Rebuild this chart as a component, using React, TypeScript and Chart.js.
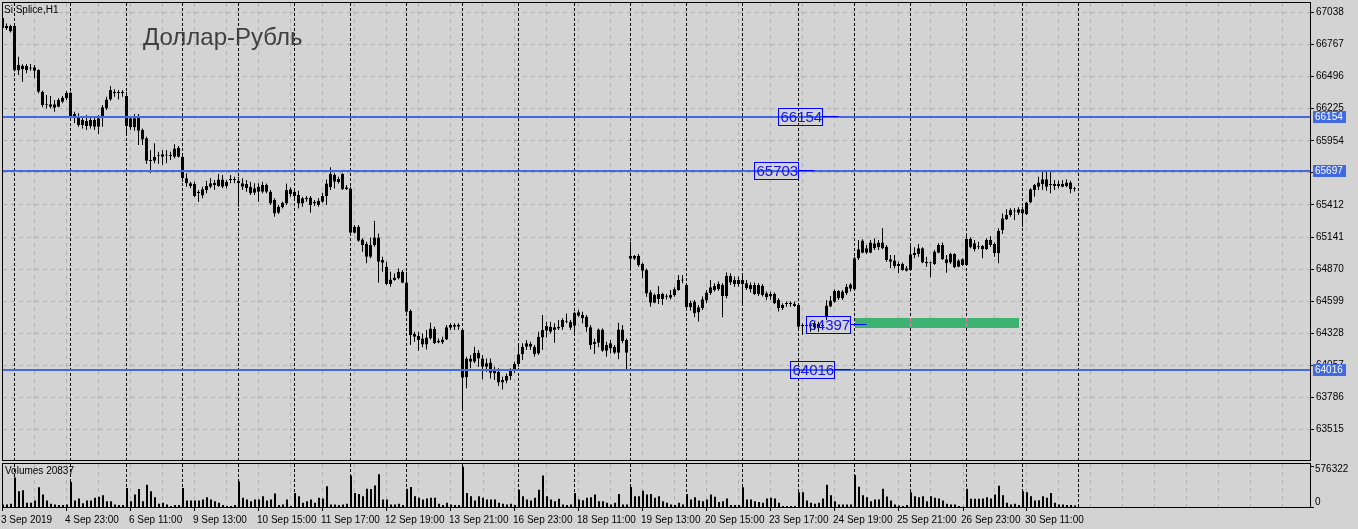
import React, { useEffect, useRef } from "react";
import { Chart, registerables } from "chart.js";
Chart.register(...registerables);

const FONT = '"Liberation Sans", Arial, sans-serif';
const BG = "#d3d3d3";
const GRID = "#b2b2b2";
const LEVEL = "#4169e1";

// ---- price data (Si Splice, H1) ----
const openP = [
  66992, 66905, 66924, 66925, 66547, 66589, 66552, 66570, 66546, 66552,
  66369, 66259, 66262, 66262, 66242, 66285, 66313, 66361, 66180, 66158,
  66087, 66121, 66079, 66130, 66073, 66144, 66228, 66304, 66369, 66361,
  66369, 66332, 66068, 66068, 66158, 66045, 65975, 65789, 65786, 65831,
  65840, 65833, 65826, 65820, 65896, 65820, 65637, 65595, 65589, 65516,
  65493, 65538, 65567, 65581, 65572, 65628, 65572, 65624, 65623, 65617,
  65595, 65589, 65567, 65516, 65524, 65524, 65580, 65524, 65454, 65347,
  65392, 65425, 65544, 65524, 65496, 65425, 65462, 65476, 65440, 65411,
  65440, 65487, 65561, 65665, 65606, 65673, 65544, 65552, 65178, 65228,
  65121, 65082, 64975, 65073, 65138, 64947, 64890, 64744, 64800, 64792,
  64848, 64758, 64516, 64322, 64305, 64285, 64234, 64285, 64364, 64265,
  64251, 64276, 64375, 64398, 64398, 64355, 63956, 64116, 64088, 64164,
  64116, 64046, 64082, 64023, 64003, 63913, 63927, 63967, 64023, 64068,
  64150, 64215, 64237, 64215, 64158, 64293, 64350, 64383, 64378, 64383,
  64378, 64426, 64426, 64392, 64505, 64482, 64468, 64378, 64237, 64248,
  64361, 64229, 64243, 64215, 64164, 64361, 64271, 64980, 64958, 64980,
  64913, 64862, 64674, 64586, 64659, 64617, 64637, 64628, 64651, 64693,
  64773, 64736, 64548, 64596, 64503, 64539, 64604, 64666, 64694, 64700,
  64736, 64643, 64812, 64779, 64745, 64779, 64751, 64700, 64736, 64660,
  64728, 64666, 64660, 64660, 64610, 64539, 64576, 64576, 64559, 64567,
  64390, 64390, 64392, 64378, 64406, 64390, 64464, 64555, 64595, 64686,
  64623, 64666, 64704, 64697, 64961, 65009, 65046, 65009, 65088, 65054,
  65094, 65060, 64953, 64942, 64897, 64913, 64877, 64863, 64989, 64998,
  65046, 64933, 64919, 64913, 65009, 65074, 64953, 64925, 64998, 64891,
  64905, 64905, 65127, 65088, 65054, 65037, 65037, 65116, 65082, 65004,
  65201, 65291, 65327, 65356, 65347, 65375, 65336, 65432, 65539, 65567,
  65589, 65629, 65581, 65572, 65589, 65567, 65572, 65601, 65544,
];
const highP = [
  67017, 66945, 66935, 66935, 66665, 66600, 66603, 66603, 66594, 66558,
  66378, 66341, 66332, 66299, 66313, 66332, 66378, 66369, 66200, 66186,
  66158, 66172, 66164, 66158, 66172, 66256, 66327, 66417, 66389, 66383,
  66383, 66369, 66164, 66180, 66180, 66059, 65989, 65876, 65933, 65862,
  65876, 65876, 65862, 65924, 65910, 65834, 65679, 65609, 65609, 65538,
  65567, 65617, 65637, 65623, 65673, 65665, 65623, 65665, 65651, 65651,
  65637, 65623, 65609, 65595, 65595, 65608, 65594, 65538, 65468, 65411,
  65440, 65594, 65561, 65544, 65532, 65482, 65487, 65487, 65454, 65468,
  65516, 65628, 65730, 65679, 65651, 65679, 65580, 65566, 65242, 65242,
  65130, 65102, 65138, 65279, 65172, 64975, 64933, 64848, 64834, 64876,
  64862, 64848, 64530, 64341, 64341, 64327, 64355, 64417, 64383, 64285,
  64299, 64398, 64412, 64412, 64412, 64369, 64130, 64144, 64215, 64186,
  64144, 64116, 64116, 64046, 64032, 63961, 63989, 64032, 64088, 64229,
  64243, 64271, 64257, 64229, 64341, 64482, 64426, 64426, 64412, 64440,
  64454, 64496, 64440, 64510, 64524, 64510, 64482, 64398, 64285, 64369,
  64369, 64257, 64271, 64229, 64417, 64398, 64285, 65102, 64989, 64997,
  64924, 64876, 64693, 64665, 64727, 64671, 64659, 64693, 64716, 64820,
  64821, 64750, 64604, 64610, 64567, 64638, 64694, 64779, 64750, 64765,
  64750, 64841, 64835, 64807, 64807, 64812, 64779, 64756, 64756, 64750,
  64745, 64680, 64680, 64672, 64624, 64581, 64596, 64596, 64596, 64581,
  64412, 64406, 64412, 64426, 64426, 64406, 64609, 64643, 64699, 64694,
  64694, 64744, 64750, 64975, 65116, 65122, 65074, 65116, 65130, 65116,
  65215, 65074, 64989, 64989, 64933, 64925, 64897, 65088, 65054, 65082,
  65054, 64975, 64933, 65032, 65088, 65094, 64989, 65009, 65004, 64953,
  64961, 65158, 65139, 65116, 65102, 65074, 65130, 65150, 65094, 65215,
  65341, 65375, 65384, 65384, 65392, 65398, 65440, 65553, 65589, 65651,
  65691, 65691, 65691, 65623, 65617, 65623, 65629, 65617, 65567,
];
const lowP = [
  66890, 66890, 66870, 66540, 66510, 66454, 66524, 66546, 66482, 66355,
  66237, 66228, 66228, 66200, 66237, 66271, 66299, 66152, 66102, 66073,
  66059, 66045, 66059, 66045, 66011, 66073, 66214, 66293, 66327, 66304,
  66327, 65995, 66045, 66040, 65918, 65918, 65758, 65679, 65764, 65758,
  65750, 65764, 65792, 65806, 65814, 65609, 65567, 65553, 65482, 65440,
  65468, 65510, 65553, 65538, 65567, 65553, 65553, 65595, 65595, 65398,
  65538, 65524, 65496, 65496, 65440, 65510, 65510, 65411, 65313, 65335,
  65383, 65411, 65482, 65454, 65383, 65397, 65440, 65347, 65403, 65397,
  65431, 65411, 65538, 65552, 65594, 65538, 65538, 65172, 65172, 65102,
  65017, 64919, 64961, 65059, 64755, 64848, 64736, 64721, 64772, 64783,
  64750, 64502, 64229, 64257, 64181, 64209, 64192, 64276, 64237, 64243,
  64237, 64271, 64355, 64355, 64355, 63680, 63863, 64032, 64074, 64046,
  63939, 64003, 63947, 63933, 63882, 63854, 63905, 63933, 63995, 64046,
  64102, 64186, 64186, 64130, 64144, 64186, 64293, 64327, 64248, 64355,
  64355, 64412, 64355, 64333, 64468, 64412, 64341, 64192, 64153, 64209,
  64172, 64130, 64158, 64153, 64108, 64243, 64023, 64876, 64947, 64890,
  64792, 64637, 64553, 64581, 64575, 64567, 64614, 64614, 64637, 64688,
  64750, 64525, 64520, 64463, 64427, 64525, 64581, 64652, 64680, 64688,
  64463, 64624, 64736, 64722, 64722, 64576, 64694, 64672, 64652, 64643,
  64638, 64610, 64610, 64576, 64511, 64525, 64553, 64553, 64553, 64370,
  64314, 64361, 64342, 64356, 64342, 64370, 64440, 64547, 64587, 64609,
  64609, 64651, 64680, 64690, 64947, 65004, 64998, 65004, 65032, 65032,
  65037, 64933, 64877, 64877, 64835, 64857, 64849, 64857, 64961, 64975,
  64919, 64891, 64801, 64905, 65004, 64947, 64840, 64913, 64877, 64885,
  64897, 64897, 65046, 65018, 65037, 64961, 65032, 65060, 64975, 64919,
  65167, 65285, 65313, 65285, 65327, 65229, 65327, 65426, 65482, 65539,
  65539, 65533, 65510, 65539, 65553, 65561, 65561, 65510, 65525,
];
const closeP = [
  66907, 66925, 66880, 66547, 66594, 66558, 66586, 66566, 66575, 66369,
  66256, 66254, 66242, 66234, 66299, 66321, 66361, 66158, 66144, 66087,
  66130, 66079, 66130, 66073, 66144, 66237, 66304, 66383, 66355, 66358,
  66355, 66079, 66144, 66144, 66040, 65966, 65786, 65784, 65820, 65828,
  65820, 65831, 65825, 65890, 65820, 65637, 65595, 65572, 65488, 65513,
  65544, 65572, 65595, 65600, 65628, 65567, 65609, 65622, 65622, 65595,
  65567, 65553, 65510, 65553, 65567, 65580, 65524, 65425, 65341, 65397,
  65431, 65538, 65504, 65487, 65425, 65468, 65462, 65411, 65425, 65448,
  65487, 65594, 65673, 65608, 65634, 65544, 65561, 65178, 65228, 65110,
  65073, 64975, 65073, 65138, 64933, 64924, 64744, 64783, 64778, 64848,
  64755, 64510, 64313, 64299, 64271, 64234, 64293, 64369, 64243, 64251,
  64276, 64378, 64398, 64383, 64383, 63953, 64116, 64088, 64164, 64116,
  64046, 64074, 63995, 63989, 63913, 63933, 63967, 64023, 64068, 64150,
  64215, 64243, 64215, 64153, 64299, 64355, 64389, 64341, 64355, 64369,
  64440, 64426, 64375, 64502, 64476, 64454, 64378, 64229, 64257, 64361,
  64181, 64181, 64200, 64164, 64361, 64263, 64164, 64958, 64980, 64905,
  64857, 64665, 64586, 64651, 64617, 64659, 64637, 64651, 64699, 64778,
  64773, 64548, 64587, 64497, 64548, 64615, 64672, 64717, 64728, 64745,
  64643, 64812, 64756, 64745, 64779, 64745, 64708, 64736, 64660, 64736,
  64652, 64632, 64638, 64581, 64539, 64567, 64575, 64575, 64576, 64384,
  64390, 64392, 64390, 64412, 64370, 64392, 64562, 64606, 64686, 64623,
  64680, 64722, 64740, 64961, 65037, 65111, 65009, 65094, 65046, 65094,
  65046, 64947, 64933, 64897, 64913, 64863, 64857, 64995, 65009, 65046,
  64925, 64919, 64919, 65018, 65074, 64953, 64919, 64998, 64885, 64942,
  64953, 65127, 65054, 65037, 65054, 65065, 65116, 65074, 65004, 65195,
  65299, 65327, 65370, 65356, 65375, 65341, 65432, 65544, 65581, 65601,
  65629, 65567, 65581, 65589, 65572, 65589, 65601, 65544, 65544,
];
const volumes = [
  37000, 37000, 47000, 422000, 225000, 239000, 61000, 61000, 94000, 281000,
  178000, 94000, 47000, 37000, 28000, 28000, 37000, 356000, 94000, 122000,
  52000, 94000, 94000, 131000, 145000, 169000, 84000, 84000, 37000, 28000,
  28000, 272000, 84000, 178000, 258000, 84000, 319000, 225000, 141000, 47000,
  61000, 37000, 14000, 28000, 28000, 272000, 94000, 94000, 94000, 94000,
  108000, 141000, 108000, 84000, 61000, 28000, 14000, 14000, 28000, 366000,
  131000, 108000, 84000, 108000, 108000, 155000, 94000, 108000, 192000, 28000,
  37000, 108000, 14000, 201000, 155000, 61000, 84000, 108000, 61000, 131000,
  122000, 295000, 37000, 37000, 28000, 37000, 47000, 450000, 201000, 187000,
  155000, 262000, 258000, 309000, 469000, 108000, 108000, 37000, 37000, 47000,
  28000, 262000, 286000, 155000, 131000, 108000, 122000, 131000, 131000, 47000,
  28000, 61000, 37000, 28000, 28000, 576322, 201000, 155000, 94000, 155000,
  131000, 108000, 108000, 108000, 61000, 47000, 37000, 47000, 28000, 248000,
  155000, 108000, 94000, 131000, 248000, 450000, 155000, 108000, 84000, 117000,
  37000, 28000, 37000, 201000, 108000, 98000, 131000, 141000, 178000, 84000,
  84000, 61000, 37000, 61000, 187000, 37000, 37000, 286000, 155000, 155000,
  234000, 178000, 187000, 131000, 155000, 84000, 61000, 37000, 28000, 61000,
  37000, 187000, 108000, 141000, 94000, 84000, 108000, 178000, 145000, 70000,
  84000, 122000, 28000, 28000, 28000, 281000, 108000, 108000, 84000, 70000,
  61000, 122000, 131000, 122000, 61000, 14000, 14000, 14000, 14000, 211000,
  211000, 94000, 61000, 47000, 61000, 122000, 319000, 169000, 84000, 37000,
  37000, 37000, 37000, 459000, 291000, 169000, 141000, 84000, 108000, 108000,
  262000, 150000, 94000, 37000, 23000, 14000, 28000, 211000, 155000, 141000,
  155000, 84000, 155000, 131000, 122000, 94000, 47000, 37000, 37000, 14000,
  5000, 262000, 117000, 117000, 117000, 122000, 141000, 122000, 178000, 305000,
  169000, 61000, 37000, 47000, 28000, 225000, 211000, 155000, 94000, 98000,
  155000, 131000, 201000, 61000, 37000, 37000, 28000, 28000, 20837,
];

// ---- axes / annotations ----
const priceTicks = [67038, 66767, 66496, 66225, 65954, 65683, 65412, 65141, 64870, 64599, 64328, 64057, 63786, 63515];
const volumeTicks = [576322, 0];
const timeLabelIdx = [0, 16, 32, 48, 64, 80, 96, 112, 128, 144, 160, 176, 192, 208, 224, 240, 256];
const timeLabels = [
  "3 Sep 2019", "4 Sep 23:00", "6 Sep 11:00", "9 Sep 13:00", "10 Sep 15:00", "11 Sep 17:00",
  "12 Sep 19:00", "13 Sep 21:00", "16 Sep 23:00", "18 Sep 11:00", "19 Sep 13:00", "20 Sep 15:00",
  "23 Sep 17:00", "24 Sep 19:00", "25 Sep 21:00", "26 Sep 23:00", "30 Sep 11:00",
];
const gridIdx = [0, 8, 16, 24, 32, 40, 48, 56, 64, 72, 80, 88, 96, 104, 112, 120, 128, 136, 144, 152, 160, 168, 176, 184, 192, 200, 208, 216, 224, 232, 240, 248, 256, 264, 272, 280, 288, 296, 304, 312, 320];
const daySeparatorIdx = [3, 17, 31, 45, 59, 73, 87, 101, 115, 129, 143, 157, 171, 185, 199, 213, 227, 241, 255, 269];
const levelValues = [66154, 65697, 64016];
const boxValues = [66154, 65703, 64397, 64016];
const boxIdx = [194, 188, 201, 197];
const zoneIdx = [213.2, 254];
const zonePrices = [64372, 64457];

const vx = (xs: any, v: number) => Math.ceil(xs.getPixelForValue(v)) - 0.5;
const hy = (ys: any, v: number) => Math.round(ys.getPixelForValue(v) + 0.5) - 0.5;

const mtPlugin = {
  id: "mt",
  beforeDatasetsDraw(chart: any, _a: any, opts: any) {
    const { ctx, chartArea: a } = chart;
    const xs = chart.scales.x;
    const ys = chart.scales.y;
    ctx.save();
    ctx.beginPath();
    ctx.rect(a.left, a.top, a.right - a.left, a.bottom - a.top);
    ctx.clip();
    ctx.lineWidth = 1;
    ctx.strokeStyle = GRID;
    ctx.setLineDash([4, 4]);
    if (opts.main) {
      priceTicks.forEach((v) => {
        const y = hy(ys, v);
        ctx.beginPath();
        ctx.moveTo(a.left, y);
        ctx.lineTo(a.right, y);
        ctx.stroke();
      });
    }
    const vline = (v: number) => {
      const x = vx(xs, v);
      ctx.beginPath();
      ctx.moveTo(x, a.top);
      ctx.lineTo(x, a.bottom);
      ctx.stroke();
    };
    gridIdx.forEach(vline);
    let zone: any = null;
    if (opts.main) {
      const x1 = Math.round(xs.getPixelForValue(zoneIdx[0]));
      const x2 = Math.round(xs.getPixelForValue(zoneIdx[1]));
      const y1 = Math.round(ys.getPixelForValue(zonePrices[1]));
      const y2 = Math.round(ys.getPixelForValue(zonePrices[0]));
      ctx.fillStyle = "#3cb371";
      ctx.fillRect(x1, y1, x2 - x1, y2 - y1);
      zone = { x1, x2, y1, y2 };
    }
    ctx.strokeStyle = "#000";
    ctx.setLineDash([3, 2]);
    daySeparatorIdx.forEach(vline);
    if (zone) {
      ctx.strokeStyle = "#ff70b8";
      daySeparatorIdx.forEach((v) => {
        const x = vx(xs, v);
        if (x > zone.x1 && x < zone.x2) {
          ctx.beginPath();
          ctx.moveTo(x, zone.y1);
          ctx.lineTo(x, zone.y2);
          ctx.stroke();
        }
      });
    }
    ctx.restore();
  },
  afterDatasetsDraw(chart: any, _a: any, opts: any) {
    if (!opts.main) return;
    const { ctx, chartArea: a } = chart;
    const xs = chart.scales.x;
    const ys = chart.scales.y;
    ctx.save();
    ctx.fillStyle = LEVEL;
    levelValues.forEach((v) => {
      const y = Math.round(ys.getPixelForValue(v));
      ctx.fillRect(a.left, y - 1, a.right - a.left, 2);
    });
    ctx.font = `15px ${FONT}`;
    ctx.textBaseline = "middle";
    ctx.textAlign = "left";
    ctx.lineWidth = 1;
    boxValues.forEach((v, k) => {
      const y = Math.round(ys.getPixelForValue(v));
      const x = vx(xs, boxIdx[k]);
      ctx.strokeStyle = "#0000ff";
      ctx.strokeRect(x, y - 8.5, 44, 17);
      ctx.beginPath();
      ctx.moveTo(x + 44, y - 0.5);
      ctx.lineTo(x + 60, y - 0.5);
      ctx.stroke();
      ctx.fillStyle = "#1010ff";
      ctx.fillText(String(v), x + 2, y + 1);
    });
    ctx.restore();
  },
  afterDraw(chart: any, _a: any, opts: any) {
    const { ctx, chartArea: a } = chart;
    const xs = chart.scales.x;
    const ys = chart.scales.y;
    ctx.save();
    ctx.lineWidth = 1;
    ctx.setLineDash([]);
    ctx.strokeStyle = "#000";
    ctx.strokeRect(a.left - 0.5, a.top - 0.5, a.right - a.left + 1, a.bottom - a.top + 1);
    ctx.font = `10px ${FONT}`;
    ctx.textAlign = "left";
    ctx.textBaseline = "middle";
    if (opts.main) {
      levelValues.forEach((v) => {
        const y = Math.round(ys.getPixelForValue(v));
        ctx.fillStyle = LEVEL;
        ctx.fillRect(a.right + 3, y - 6, 33, 12);
        ctx.fillStyle = "#ffffff";
        ctx.fillText(String(v), a.right + 5, y + 0.5);
      });
    } else {
      volumeTicks.forEach((v) => {
        const y = hy(ys, v);
        ctx.beginPath();
        ctx.moveTo(a.right, y);
        ctx.lineTo(a.right + 4, y);
        ctx.stroke();
        ctx.fillStyle = "#000";
        ctx.fillText(String(v), a.right + 5, v === 0 ? y - 5 : y + 2.5);
      });
      timeLabelIdx.forEach((v) => {
        const x = vx(xs, v);
        ctx.beginPath();
        ctx.moveTo(x, a.bottom + 1);
        ctx.lineTo(x, a.bottom + 4);
        ctx.stroke();
      });
    }
    ctx.restore();
  },
};

export default function App() {
  const mainRef = useRef<HTMLCanvasElement>(null);
  const volRef = useRef<HTMLCanvasElement>(null);

  useEffect(() => {
    const idx = openP.map((_, i) => i);
    const wickData = idx.map((i) => ({ x: i, y: [lowP[i], highP[i]] }));
    const bodyData = idx.map((i) => ({ x: i, y: [openP[i], closeP[i]] }));
    const bodyColors = idx.map((i) => (closeP[i] > openP[i] ? "#ffffff" : "#000000"));
    const volData = idx.map((i) => ({ x: i, y: volumes[i] }));

    const main = new Chart(mainRef.current as HTMLCanvasElement, {
      type: "bar",
      data: {
        datasets: [
          {
            data: wickData as any,
            backgroundColor: "#000000",
            borderWidth: 0,
            barThickness: 1,
            grouped: false,
            inflateAmount: 0,
          } as any,
          {
            data: bodyData as any,
            backgroundColor: bodyColors,
            borderColor: "#000000",
            borderWidth: 1,
            borderSkipped: false,
            barThickness: 3,
            minBarLength: 1,
            grouped: false,
            inflateAmount: 0,
          } as any,
        ],
      },
      options: {
        responsive: false,
        animation: false,
        events: [],
        layout: { padding: { left: 3, top: 3, right: 0, bottom: 2 } },
        plugins: { legend: { display: false }, tooltip: { enabled: false }, mt: { main: true } } as any,
        scales: {
          x: { type: "linear", display: false, min: 0.125, max: 326.875, offset: false, grid: { display: false } },
          y: {
            type: "linear",
            position: "right",
            min: 63257.5,
            max: 67118.3,
            afterBuildTicks: (s: any) => {
              s.ticks = priceTicks.map((v) => ({ value: v }));
            },
            afterFit: (s: any) => {
              s.width = 48;
              s.paddingTop = 0;
              s.paddingBottom = 0;
            },
            border: { display: false },
            grid: { drawOnChartArea: false, color: "#000", tickColor: "#000", tickLength: 4 },
            ticks: {
              color: "#000",
              font: { family: FONT, size: 10 },
              padding: 2,
              autoSkip: false,
              callback: (v: any) => String(v),
            },
          },
        },
      } as any,
      plugins: [mtPlugin as any],
    });

    const vol = new Chart(volRef.current as HTMLCanvasElement, {
      type: "bar",
      data: {
        datasets: [
          {
            data: volData as any,
            backgroundColor: "#000000",
            borderWidth: 0,
            barThickness: 2,
            grouped: false,
            inflateAmount: 0,
          } as any,
        ],
      },
      options: {
        responsive: false,
        animation: false,
        events: [],
        layout: { padding: { left: 3, top: 9, right: 0, bottom: 0 } },
        plugins: { legend: { display: false }, tooltip: { enabled: false }, mt: { main: false } } as any,
        scales: {
          x: {
            type: "linear",
            min: 0,
            max: 326.75,
            offset: false,
            afterBuildTicks: (s: any) => {
              s.ticks = timeLabelIdx.map((v) => ({ value: v }));
            },
            afterFit: (s: any) => {
              s.height = 22;
              s.paddingLeft = 0;
              s.paddingRight = 0;
            },
            border: { display: false },
            grid: { display: false },
            ticks: {
              color: "#000",
              font: { family: FONT, size: 10 },
              autoSkip: false,
              maxRotation: 0,
              align: "start",
              padding: -1,
              labelOffset: -2,
              callback: (_v: any, i: number) => timeLabels[i],
            },
          },
          y: {
            type: "linear",
            position: "right",
            min: 0,
            max: 615000,
            afterFit: (s: any) => {
              s.width = 48;
              s.paddingTop = 0;
              s.paddingBottom = 0;
            },
            border: { display: false },
            grid: { display: false },
            ticks: { display: false },
          },
        },
      } as any,
      plugins: [mtPlugin as any],
    });

    return () => {
      main.destroy();
      vol.destroy();
    };
  }, []);

  return (
    <div
      style={{
        position: "fixed",
        left: 0,
        top: 0,
        width: 1358,
        height: 529,
        background: BG,
        overflow: "hidden",
        fontFamily: FONT,
      }}
    >
      <canvas ref={mainRef} width={1358} height={462} style={{ position: "absolute", left: 0, top: 0, width: 1358, height: 462 }} />
      <canvas ref={volRef} width={1358} height={74} style={{ position: "absolute", left: 0, top: 455, width: 1358, height: 74 }} />
      <div style={{ position: "absolute", left: 4, top: 4, fontSize: 10, lineHeight: "12px", color: "#000", whiteSpace: "nowrap" }}>
        Si Splice,H1
      </div>
      <div style={{ position: "absolute", left: 143, top: 25, fontSize: 24, lineHeight: "24px", color: "#404040", whiteSpace: "nowrap" }}>
        Доллар-Рубль
      </div>
      <div style={{ position: "absolute", left: 5, top: 465, fontSize: 10, lineHeight: "12px", color: "#000", whiteSpace: "nowrap" }}>
        Volumes 20837
      </div>
    </div>
  );
}
